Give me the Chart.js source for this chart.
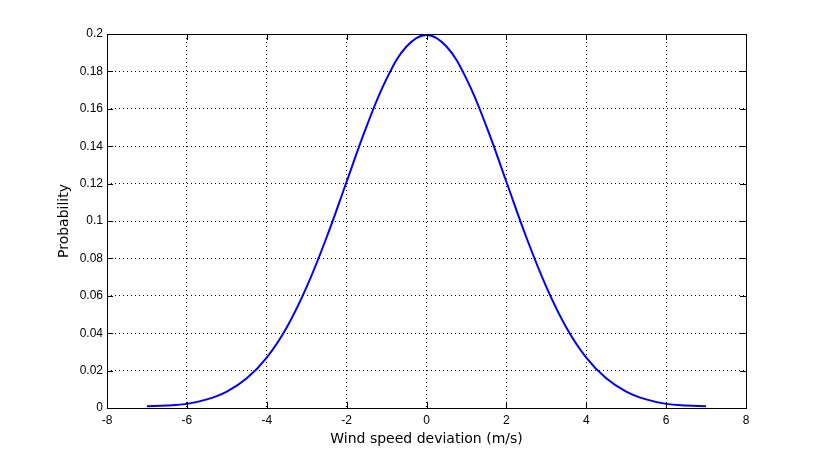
<!DOCTYPE html>
<html>
<head>
<meta charset="utf-8">
<script src="https://cdn.jsdelivr.net/npm/chart.js@4.4.1/dist/chart.umd.min.js"></script>
<style>
    html, body { margin: 0; padding: 0; background: #fff; }
    canvas { display: block; }
</style>
</head>
<body>
<canvas id="pdfChart" width="824" height="458"></canvas>
<script>
// Wind speed deviation (m/s) and probability
var deviation = [-7, -6.5, -6, -5.5, -5, -4.5, -4, -3.5, -3, -2.5, -2, -1.5, -1, -0.5, 0,
                 0.5, 1, 1.5, 2, 2.5, 3, 3.5, 4, 4.5, 5, 5.5, 6, 6.5, 7];
var probability = [0.0009, 0.0013, 0.0022, 0.0046, 0.0088, 0.0159, 0.027, 0.0431, 0.0648, 0.0913, 0.121, 0.1506, 0.176, 0.1933, 0.1995,
                   0.1933, 0.176, 0.1506, 0.121, 0.0913, 0.0648, 0.0431, 0.027, 0.0159, 0.0088, 0.0046, 0.0022, 0.0013, 0.0009];

// Axis ranges and tick steps
var xRange = [-8, 8];
var xStep = 2;
var yRange = [0, 0.2];
var yStep = 0.02;

Chart.defaults.font.family = 'DejaVu Sans';
Chart.defaults.color = '#000';

// Box round the plot area plus MATLAB style inward tick marks
var boxPlugin = {
    id: 'box',
    afterDraw: function(chart) {
        var c = chart.ctx;
        var a = chart.chartArea;
        var xs = chart.scales.x;
        var ys = chart.scales.y;
        var len = 6;
        c.save();
        c.strokeStyle = '#000';
        c.lineWidth = 1;
        c.setLineDash([]);
        c.beginPath();
        xs.ticks.forEach(function(t) {
            var px = Math.round(xs.getPixelForValue(t.value)) + 0.5;
            c.moveTo(px, a.bottom); c.lineTo(px, a.bottom - len);
            c.moveTo(px, a.top); c.lineTo(px, a.top + len);
        });
        ys.ticks.forEach(function(t) {
            var py = Math.round(ys.getPixelForValue(t.value)) + 0.5;
            c.moveTo(a.left, py); c.lineTo(a.left + len, py);
            c.moveTo(a.right, py); c.lineTo(a.right - len, py);
        });
        c.stroke();
        c.strokeRect(Math.round(a.left) + 0.5, Math.round(a.top) + 0.5,
                     Math.round(a.right - a.left), Math.round(a.bottom - a.top));
        c.restore();
    }
};

var ctx = document.getElementById('pdfChart').getContext('2d');
var points = deviation.map(function(x, i) { return { x: x, y: probability[i] }; });

var pdfChart = new Chart(ctx, {
    type: 'line',
    data: {
        datasets: [{
            data: points,
            borderColor: '#0000ff',
            borderWidth: 2,
            pointRadius: 0,
            tension: 0.4,
            fill: false
        }]
    },
    options: {
        responsive: false,
        animation: false,
        layout: {
            padding: { left: 52, right: 78, top: 34, bottom: 7 }
        },
        plugins: {
            legend: { display: false },
            tooltip: { enabled: false }
        },
        scales: {
            x: {
                type: 'linear',
                min: xRange[0],
                max: xRange[1],
                ticks: {
                    stepSize: xStep,
                    padding: 5,
                    font: { family: 'Liberation Sans', size: 12 },
                    callback: function(v) { return String(parseFloat(v.toFixed(4))); }
                },
                grid: { color: '#000', lineWidth: 1, drawTicks: false },
                border: { display: false, dash: [1, 3] },
                title: {
                    display: true,
                    text: 'Wind speed deviation (m/s)',
                    font: { size: 14 },
                    padding: { top: 0, bottom: 3 }
                },
                afterFit: function(scale) { scale.height = 43; }
            },
            y: {
                min: yRange[0],
                max: yRange[1],
                ticks: {
                    stepSize: yStep,
                    padding: 4,
                    font: { family: 'Liberation Sans', size: 12 },
                    callback: function(v) { return String(parseFloat(v.toFixed(4))); }
                },
                grid: { color: '#000', lineWidth: 1, drawTicks: false },
                border: { display: false, dash: [1, 3] },
                title: {
                    display: true,
                    text: 'Probability',
                    font: { size: 14 },
                    padding: { top: 4, bottom: 0 }
                },
                afterFit: function(scale) { scale.width = 55; }
            }
        }
    },
    plugins: [boxPlugin]
});
</script>
</body>
</html>
